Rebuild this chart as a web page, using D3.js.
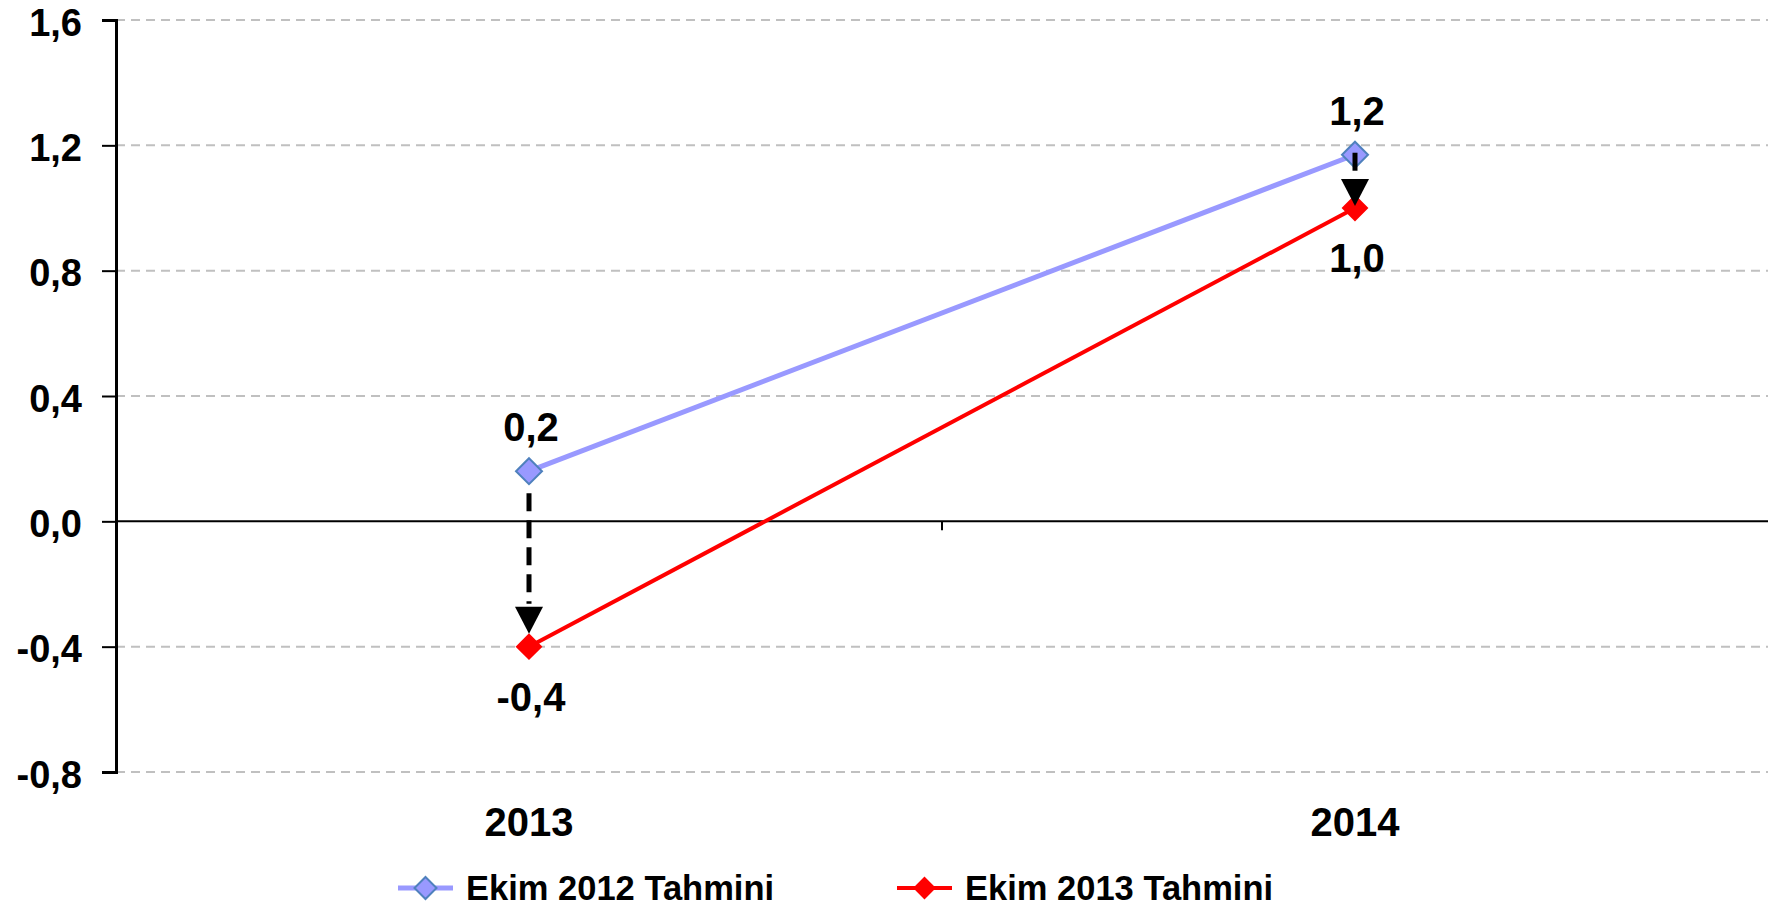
<!DOCTYPE html>
<html>
<head>
<meta charset="utf-8">
<script src="https://cdn.jsdelivr.net/npm/d3@7"></script>
<style>
  body { margin: 0; background: #fff; }
  text { font-family: "Liberation Sans", Arial, sans-serif; font-weight: bold; fill: #000; }
</style>
</head>
<body>
<svg id="chart" width="1771" height="907"></svg>
<script>
    var years = ["2013", "2014"];
    var ekim2012 = [0.16, 1.17];
    var ekim2013 = [-0.40, 1.00];
    var seriesNames = ["Ekim 2012 Tahmini", "Ekim 2013 Tahmini"];
    var yTicks = [-0.8, -0.4, 0, 0.4, 0.8, 1.2, 1.6];

    var width = 1771, height = 907;
    var svg = d3.select("#chart");

    var x = d3.scaleBand()
        .domain(years)
        .range([116, 1768]);

    var y = d3.scaleLinear()
        .domain([-0.8, 1.6])
        .range([772, 20]);

    var fmt = function(v){ return d3.format(".1f")(v).replace(".", ",").replace("\u2212", "-"); };
    var cx = function(d, i){ return x(years[i]) + x.bandwidth() / 2; };

    // grid
    svg.append("g").selectAll("line")
        .data(yTicks.filter(function(d){ return d !== 0; }))
      .enter().append("line")
        .attr("x1", 116).attr("x2", 1768)
        .attr("y1", function(d){ return y(d); })
        .attr("y2", function(d){ return y(d); })
        .attr("stroke", "#c0c0c0")
        .attr("stroke-width", 2)
        .attr("stroke-dasharray", "9,6");

    // zero line with category tick
    svg.append("line")
        .attr("x1", 116).attr("x2", 1768)
        .attr("y1", y(0)).attr("y2", y(0))
        .attr("stroke", "#000").attr("stroke-width", 2);
    svg.append("line")
        .attr("x1", x(years[1])).attr("x2", x(years[1]))
        .attr("y1", y(0)).attr("y2", y(0) + 9)
        .attr("stroke", "#000").attr("stroke-width", 2);

    // y axis
    var yAxis = svg.append("g")
        .attr("transform", "translate(116,0)")
        .call(d3.axisLeft(y).tickValues(yTicks).tickSize(14).tickPadding(20).tickFormat(fmt));
    yAxis.select(".domain").attr("stroke", "#000").attr("stroke-width", 3);
    yAxis.selectAll(".tick line").attr("stroke", "#000").attr("stroke-width", 2);
    yAxis.selectAll(".tick text")
        .attr("font-size", 38)
        .attr("dy", "0.4em")
        .attr("font-family", "Liberation Sans, Arial, sans-serif")
        .attr("font-weight", "bold")
        .attr("fill", "#000");

    // year labels
    svg.append("g").selectAll("text")
        .data(years)
      .enter().append("text")
        .attr("x", function(d){ return x(d) + x.bandwidth() / 2; })
        .attr("y", 836)
        .attr("text-anchor", "middle")
        .attr("font-size", 40)
        .text(function(d){ return d; });

    var line = d3.line()
        .x(cx)
        .y(function(d){ return y(d); });

    var diamond = function(r){ return "M0," + (-r) + "L" + r + ",0L0," + r + "L" + (-r) + ",0Z"; };

    var series = [
      {name: seriesNames[0], values: ekim2012, stroke: "#9999ff", width: 5, fill: "#9999ff", mstroke: "#4f81bd", r: 13, dy: -30},
      {name: seriesNames[1], values: ekim2013, stroke: "#ff0000", width: 4, fill: "#ff0000", mstroke: "#ff0000", r: 12, dy: 64}
    ];

    series.forEach(function(s){
      svg.append("path")
          .attr("d", line(s.values))
          .attr("fill", "none")
          .attr("stroke", s.stroke)
          .attr("stroke-width", s.width);

      svg.append("g").selectAll("path")
          .data(s.values)
        .enter().append("path")
          .attr("transform", function(d, i){ return "translate(" + cx(d, i) + "," + y(d) + ")"; })
          .attr("d", diamond(s.r))
          .attr("fill", s.fill)
          .attr("stroke", s.mstroke)
          .attr("stroke-width", 2);

      svg.append("g").selectAll("text")
          .data(s.values)
        .enter().append("text")
          .attr("x", function(d, i){ return cx(d, i) + 2; })
          .attr("y", function(d){ return y(d) + s.dy; })
          .attr("text-anchor", "middle")
          .attr("font-size", 40)
          .text(fmt);
    });

    // arrows from old forecast to new forecast (start gap, tip gap)
    var arrowGaps = [[22, 13], [-2, 2]];
    var arrows = svg.append("g");
    ekim2012.forEach(function(v, i){
      var px = cx(null, i);
      var y0 = y(v) + arrowGaps[i][0], y1 = y(ekim2013[i]) - arrowGaps[i][1];
      arrows.append("line")
          .attr("x1", px).attr("x2", px)
          .attr("y1", y0).attr("y2", y1 - 30)
          .attr("stroke", "#000")
          .attr("stroke-width", 5)
          .attr("stroke-dasharray", "18,9");
      arrows.append("path")
          .attr("d", "M" + (px - 14) + "," + (y1 - 27) + "L" + (px + 14) + "," + (y1 - 27) + "L" + px + "," + y1 + "Z")
          .attr("fill", "#000");
    });

    // legend
    var legendX = [398, 897];
    var legend = svg.append("g");
    series.forEach(function(s, i){
      var g = legend.append("g").attr("transform", "translate(" + legendX[i] + ",888)");
      g.append("line")
          .attr("x1", 0).attr("x2", 55)
          .attr("stroke", s.stroke).attr("stroke-width", s.width);
      g.append("path")
          .attr("transform", "translate(27.5,0)")
          .attr("d", diamond(s.r - 2))
          .attr("fill", s.fill)
          .attr("stroke", s.mstroke)
          .attr("stroke-width", 2);
      g.append("text")
          .attr("x", 68)
          .attr("y", 12)
          .attr("font-size", 34.5)
          .text(s.name);
    });
</script>
</body>
</html>
